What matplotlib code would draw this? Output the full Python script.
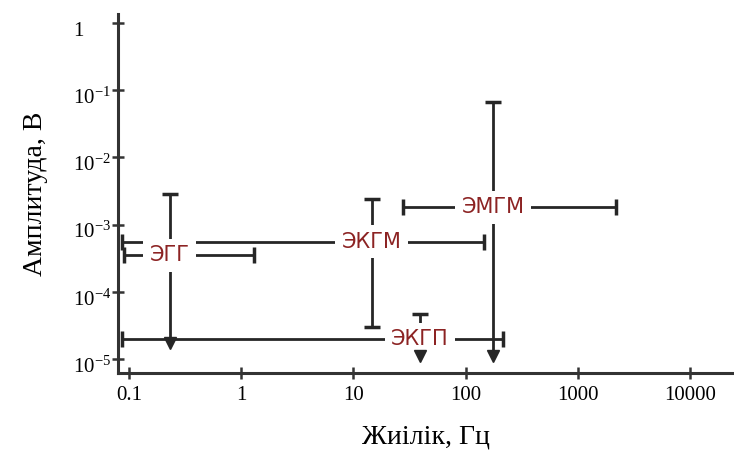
import matplotlib
matplotlib.use("Agg")
import matplotlib.pyplot as plt
import matplotlib.transforms as mtransforms
import numpy as np

# ---- data ----
names = ['ЭГГ', 'ЭКГМ', 'ЭМГМ', 'ЭКГП']
f_center = [0.23, 14.5, 175, 39]
f_low = [0.09, 0.087, 27.5, 0.087]
f_high = [1.3, 145, 2200, 215]
a_center = [3.5e-4, 5.6e-4, 1.8e-3, 2.0e-5]
a_low = [1.75e-5, 3.0e-5, 1.1e-5, 1.1e-5]
a_high = [2.9e-3, 2.4e-3, 6.6e-2, 4.7e-5]
a_arrow = [True, False, True, True]

x_ticks = [0.1, 1, 10, 100, 1000, 10000]
x_ticklabels = ['0.1', '1', '10', '100', '1000', '10000']
y_ticks = [1, 1e-1, 1e-2, 1e-3, 1e-4, 1e-5]
y_ticklabels = ['1', r'$10^{-1}$', r'$10^{-2}$', r'$10^{-3}$', r'$10^{-4}$', r'$10^{-5}$']

plt.rcParams['mathtext.fontset'] = 'custom'
plt.rcParams['mathtext.rm'] = 'Liberation Serif'
plt.rcParams['mathtext.it'] = 'Liberation Serif'

fig = plt.figure(figsize=(7.34, 4.59), dpi=100)
ax = fig.add_axes([118/734, 1-373/459, (734-118)/734, (373-14)/459])
ax.set_xscale('log')
ax.set_yscale('log')
ax.set_xlim(10**-1.098, 10**4.392)
ax.set_ylim(10**-5.208, 10**0.134)

lc = '#262626'
tc = '#8c2323'
lw = 2.0
for i in range(len(names)):
    ax.hlines(a_center[i], f_low[i], f_high[i], color=lc, lw=lw, zorder=2)
    ax.plot([f_low[i], f_high[i]], [a_center[i], a_center[i]], ls='none',
            marker='|', ms=11, mew=2.5, color=lc, zorder=2)
    ax.vlines(f_center[i], a_low[i], a_high[i], color=lc, lw=lw, zorder=2)
    ax.plot([f_center[i]], [a_high[i]], ls='none', marker='_', ms=11, mew=2.5,
            color=lc, zorder=2)
    if a_arrow[i]:
        ax.plot([f_center[i]], [a_low[i]], ls='none', marker='v', ms=8,
                color=lc, zorder=4)
    else:
        ax.plot([f_center[i]], [a_low[i]], ls='none', marker='_', ms=11, mew=2.5,
                color=lc, zorder=4)
    ax.text(f_center[i], a_center[i], names[i], color=tc, fontsize=15,
            family='DejaVu Sans', ha='center', va='center', zorder=3,
            bbox=dict(boxstyle='square,pad=0.3', facecolor='white', edgecolor='none'))

for s in ['top', 'right']:
    ax.spines[s].set_visible(False)
for s in ['left', 'bottom']:
    ax.spines[s].set_linewidth(2.2)
    ax.spines[s].set_color('#333333')

ax.set_xticks(x_ticks)
ax.set_xticklabels(x_ticklabels, family='Liberation Serif', fontsize=15)
ax.set_yticks(y_ticks)
ax.set_yticklabels(y_ticklabels, family='Liberation Serif', fontsize=15)
ax.minorticks_off()
ax.tick_params(axis='both', direction='inout', length=9, width=1.8, color='#333333')
ax.tick_params(axis='x', pad=5)
ax.tick_params(axis='y', pad=28)
shift = mtransforms.ScaledTranslation(0, -4/72, fig.dpi_scale_trans)
for lab in ax.get_yticklabels():
    lab.set_horizontalalignment('left')
    lab.set_transform(lab.get_transform() + shift)

ax.set_xlabel('Жиілік, Гц', family='Liberation Serif', fontsize=20, labelpad=14)
ax.set_ylabel('Амплитуда, В', family='Liberation Serif', fontsize=20, labelpad=18)

fig.savefig('out.png', dpi=100)
